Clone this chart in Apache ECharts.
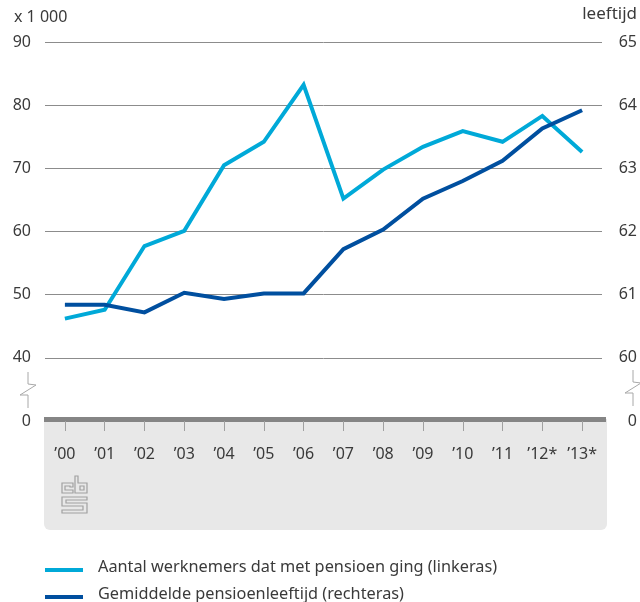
<!DOCTYPE html>
<html><head><meta charset="utf-8">
<style>html,body{margin:0;padding:0;background:#fff}#c{width:640px;height:602px}</style>
<script src="https://cdn.jsdelivr.net/npm/echarts@6/dist/echarts.min.js"></script>
</head><body><div id="c"></div>
<script>
const years = ["’00","’01","’02","’03","’04","’05","’06","’07","’08","’09","’10","’11","’12*","’13*"];
const workers = [46.2,47.6,57.7,60.1,70.5,74.2,83.2,65.2,69.8,73.4,75.9,74.2,78.3,72.6];
const pensionAge = [60.84,60.84,60.72,61.03,60.93,61.02,61.02,61.72,62.03,62.52,62.8,63.12,63.63,63.92];
const workersName = "Aantal werknemers dat met pensioen ging (linkeras)";
const ageName = "Gemiddelde pensioenleeftijd (rechteras)";
const FONT = "Noto Sans", TXT = "#3a3a3a", GRID = "#8c8c8c", LIGHT = "#00a9d8", DARK = "#004f9f";
const breakMark = (x,dy) => ({type:'polyline',z:5,silent:true,shape:{points:[[x,372+dy],[x,384+dy],[x+8,385+dy],[x-8,395+dy],[x,395+dy],[x,408+dy]]},style:{fill:null,stroke:'#a8a8a8',lineWidth:1}});
const logoPart = pts => ({type:'polygon',silent:true,z:2,shape:{points:pts},style:{fill:null,stroke:'#a0a0a0',lineWidth:1.2}});
const legendBase = {left:45,padding:0,itemWidth:38,itemHeight:10,icon:'path://M0 0L0 0M0 6H38V10H0Z',selectedMode:false,
  textStyle:{fontSize:16.3,color:TXT,fontFamily:FONT,padding:[0,0,0,10]}};
const chart = echarts.init(document.getElementById('c'),null,{renderer:'canvas'});
chart.setOption({
  animation:false,
  textStyle:{fontFamily:FONT},
  grid:{left:45,right:38,top:42,height:379},
  xAxis:{type:'category',data:years,boundaryGap:true,z:3,
    axisLine:{show:false},
    axisTick:{show:true,alignWithLabel:true,length:10,lineStyle:{color:'#a0a0a0',width:1}},
    axisLabel:{interval:0,margin:25,fontSize:16,color:TXT,fontFamily:FONT,hideOverlap:false},
    splitLine:{show:false}},
  yAxis:[
    {type:'value',min:30,max:90,interval:10,
      axisLine:{show:false},axisTick:{show:false},
      axisLabel:{margin:14,fontSize:16,color:TXT,fontFamily:FONT,padding:[2,0,0,0],formatter:v=>v===30?'0':String(v)},
      splitLine:{show:true,lineStyle:{color:GRID,width:1},showMinLine:false}},
    {type:'value',min:59,max:65,interval:1,position:'right',
      axisLine:{show:false},axisTick:{show:false},
      axisLabel:{margin:35,align:'right',padding:[0,0,3,0],fontSize:16,color:TXT,fontFamily:FONT,formatter:v=>v===59?'0':String(v)},
      splitLine:{show:false}}
  ],
  legend:[
    Object.assign({},legendBase,{top:559,data:[workersName]}),
    Object.assign({},legendBase,{top:586,data:[ageName]})
  ],
  series:[
    {name:workersName,type:'line',yAxisIndex:0,data:workers,symbol:'none',z:4,lineStyle:{color:LIGHT,width:4,join:'miter',cap:'butt'},itemStyle:{color:LIGHT}},
    {name:ageName,type:'line',yAxisIndex:1,data:pensionAge,symbol:'none',z:5,lineStyle:{color:DARK,width:4,join:'miter',cap:'butt'},itemStyle:{color:DARK}}
  ],
  graphic:[
    {type:'rect',z:-10,silent:true,shape:{x:44,y:419,width:563,height:111,r:[0,0,6,6]},style:{fill:'#e8e8e8'}},
    {type:'rect',z:3,silent:true,shape:{x:44,y:417,width:562,height:5},style:{fill:'#858585'}},
    {type:'text',silent:true,style:{x:14,y:9,text:'x 1 000',font:'16px "Noto Sans"',fill:TXT}},
    {type:'text',silent:true,style:{x:637,y:6,text:'leeftijd',align:'right',font:'17px "Noto Sans"',fill:TXT}},
    breakMark(28,0),breakMark(633,-2),
    logoPart([[62,483],[73,483],[73,487],[70,487],[70,486],[65,486],[65,490],[73,490],[73,493],[62,493]]),
    logoPart([[75,476],[78,476],[78,483],[87,483],[87,493],[75,493]]),
    logoPart([[80,486],[84,486],[84,490],[80,490]]),
    logoPart([[62,497],[87,497],[87,500],[66,500],[66,503],[87,503],[87,513],[62,513],[62,510],[83,510],[83,506],[62,506]])
  ]
});
</script></body></html>
